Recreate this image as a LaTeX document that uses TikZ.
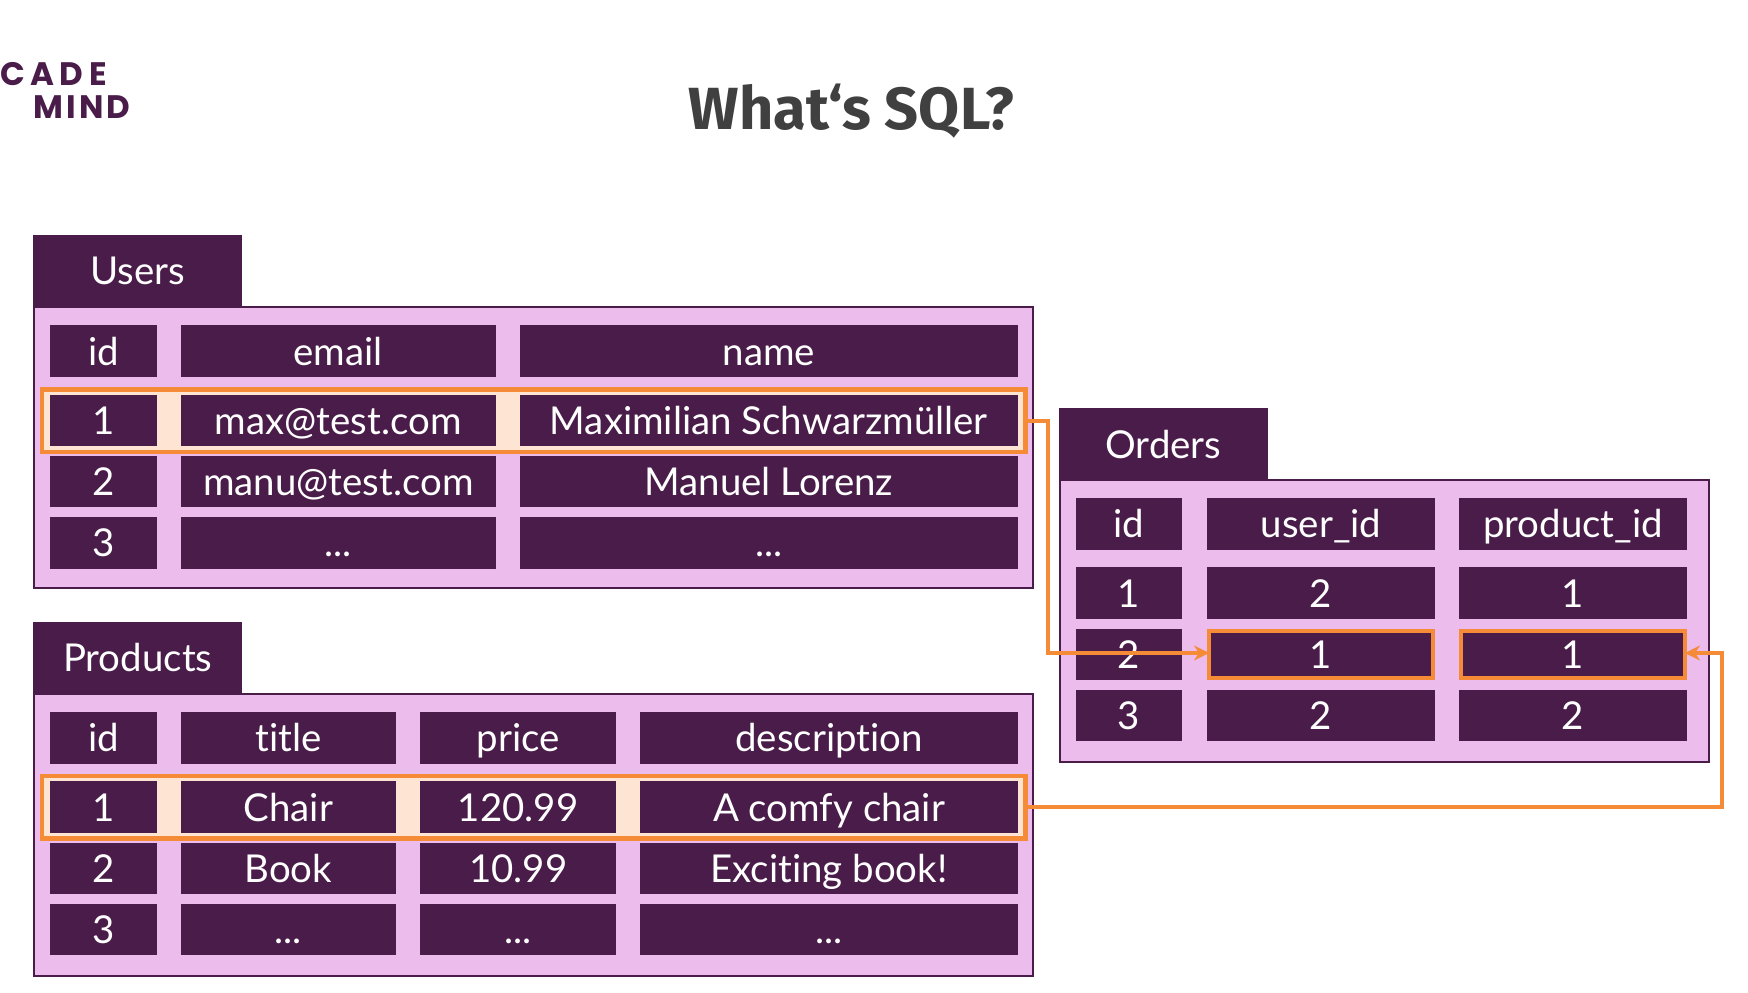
\documentclass[tikz,border=0pt]{standalone}
\usepackage{fontspec}
\setmainfont[Ligatures=NoCommon]{Lato}
\newfontfamily\titlefont{Fira Sans}
\newfontfamily\logofont[LetterSpace=12]{Poppins}
\usetikzlibrary{arrows.meta}

\definecolor{plum}{HTML}{491C49}
\definecolor{lilac}{HTML}{ECBDEC}
\definecolor{flame}{HTML}{F58A37}
\definecolor{peach}{HTML}{FDE4D3}

\newcommand{\more}{...}

\tikzset{
  panel/.style={draw=plum, fill=lilac, line width=2pt, inner sep=0pt, outer sep=0pt},
  tabhead/.style={fill=plum, text=white, inner sep=0pt, outer sep=0pt, minimum width=208.6pt,
    minimum height=71.6pt, text height=29pt, text depth=1pt, font=\fontsize{38.4}{42}\selectfont},
  cell/.style={fill=plum, text=white, inner sep=0pt, outer sep=0pt, minimum height=51.5pt,
    text height=29pt, text depth=1pt, font=\fontsize{38.4}{42}\selectfont},
  marked/.style={cell, draw=flame, line width=4.5pt, minimum height=47pt},
  rowmark/.style={draw=flame, fill=peach, line width=4.5pt, inner sep=0pt, outer sep=0pt,
    minimum width=983.5pt, minimum height=62.5pt},
  link/.style={draw=flame, line width=4pt, -{Stealth[length=15pt,width=15pt]}},
}

\begin{document}
\begin{tikzpicture}[x=1pt, y=-1pt]
  \useasboundingbox (0,0) rectangle (1748,993);

  % Logo and title
  \node[anchor=west, inner sep=0pt, text=plum, font=\logofont\addfontfeature{LetterSpace=17}\bfseries\fontsize{32.5}{33}\selectfont] (logoa) at (0,74) {CADE};
  \node[anchor=west, inner sep=0pt, text=plum, font=\logofont\addfontfeature{LetterSpace=10}\bfseries\fontsize{32.5}{33}\selectfont] (logob) at (33,107) {MIND};
  \node[text=black!75, font=\titlefont\bfseries\fontsize{59.5}{62}\selectfont] (title) at (851.6,111) {What‘s SQL?};

  % Users table
  \node[tabhead] (utab) at (137.7,270.8) {Users};
  \node[panel, minimum width=999pt, minimum height=281pt] (upanel) at (533.9,447.6) {};
  \node[rowmark] (urow) at (533.5,420.5) {};
  \foreach \r/\y/\t in {h/351.2/id, 1/420.3/1, 2/481.5/2, 3/542.8/3}
    \node[cell, minimum width=107pt] (uid\r) at (103.5,\y) {\t};
  \foreach \r/\y/\t in {h/351.2/email, 1/420.3/max@test.com, 2/481.5/manu@test.com, 3/542.8/\more}
    \node[cell, minimum width=315.4pt] (umail\r) at (338.3,\y) {\t};
  \foreach \r/\y/\t in {h/351.2/name, 1/420.3/Maximilian Schwarzmüller, 2/481.5/Manuel Lorenz, 3/542.8/\more}
    \node[cell, minimum width=498.5pt] (uname\r) at (768.8,\y) {\t};

  % Products table
  \node[tabhead] (ptab) at (137.7,657.7) {Products};
  \node[panel, minimum width=999pt, minimum height=282.2pt] (ppanel) at (533.9,835) {};
  \node[rowmark] (prow) at (533.5,807.2) {};
  \foreach \r/\y/\t in {h/737.8/id, 1/807.2/1, 2/868.5/2, 3/929.7/3}
    \node[cell, minimum width=107pt] (pid\r) at (103.5,\y) {\t};
  \foreach \r/\y/\t in {h/737.8/title, 1/807.2/Chair, 2/868.5/Book, 3/929.7/\more}
    \node[cell, minimum width=215.4pt] (ptitle\r) at (288.3,\y) {\t};
  \foreach \r/\y/\t in {h/737.8/price, 1/807.2/120.99, 2/868.5/10.99, 3/929.7/\more}
    \node[cell, minimum width=196.5pt] (pprice\r) at (518.2,\y) {\t};
  \foreach \r/\y/\t in {h/737.8/description, 1/807.2/A comfy chair, 2/868.5/Exciting book!, 3/929.7/\more}
    \node[cell, minimum width=378pt] (pdesc\r) at (829,\y) {\t};

  % Orders table
  \node[tabhead] (otab) at (1163.3,444.2) {Orders};
  \node[panel, minimum width=649pt, minimum height=282.1pt] (opanel) at (1384.5,621) {};
  \foreach \r/\y/\t in {h/523.8/id, 1/593/1, 2/654.5/2, 3/715.5/3}
    \node[cell, minimum width=106pt] (oid\r) at (1129,\y) {\t};
  \foreach \r/\y/\t in {h/523.8/user\_id, 1/593/2, 3/715.5/2}
    \node[cell, minimum width=228pt] (ouser\r) at (1321,\y) {\t};
  \foreach \r/\y/\t in {h/523.8/product\_id, 1/593/1, 3/715.5/2}
    \node[cell, minimum width=228pt] (oprod\r) at (1573,\y) {\t};
  \node[marked, minimum width=224pt] (ouser2) at (1321,654.5) {1};
  \node[marked, minimum width=224pt] (oprod2) at (1573,654.5) {1};

  % Links between the marked rows and the order cells
  \coordinate (bendu) at (1048,653);
  \coordinate (bendp) at (1722,653);
  \draw[link] (urow.east) -| (bendu) -- (ouser2.west |- bendu);
  \draw[link] (prow.east) -| (bendp) -- (oprod2.east |- bendp);
\end{tikzpicture}
\end{document}
